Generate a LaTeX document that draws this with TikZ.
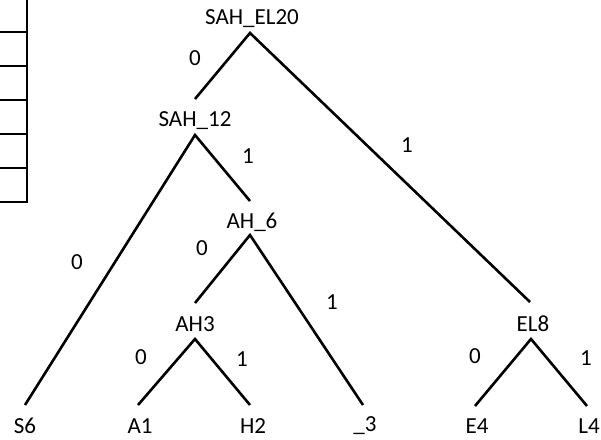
\documentclass[tikz,border=0pt]{standalone}
\usepackage{fontspec}
\setmainfont{Carlito}
\begin{document}
\begin{tikzpicture}[x=1pt,y=-1pt,
  lbl/.style={inner sep=0pt,font=\fontsize{23}{25}\selectfont},
  edge/.style={line width=2.6pt},
  tbl/.style={line width=2pt}]
\useasboundingbox (0,0) rectangle (601,439);
% table fragment
\draw[tbl] (27,0) -- (27,203);
\foreach \y in {32,66,100,134,168,202} \draw[tbl] (0,\y) -- (27,\y);
% node labels
\node[lbl] (n20) at (252,19) {SAH\_EL20};
\node[lbl] (n12) at (195,121) {SAH\_12};
\node[lbl] (n6) at (252,222) {AH\_6};
\node[lbl] (n3) at (195,324) {AH3};
\node[lbl] (n8) at (533,324) {EL8};
\node[lbl] (s6) at (25,426) {S6};
\node[lbl] (a1) at (140,426) {A1};
\node[lbl] (h2) at (253,426) {H2};
\node[lbl] (u3) at (365,426) {\_3};
\node[lbl] (e4) at (477,426) {E4};
\node[lbl] (l4) at (589,426) {L4};
% connector points
\coordinate (t20) at (250,33);
\coordinate (t12) at (195,135);
\coordinate (b12) at (195,99);
\coordinate (t6) at (250,235);
\coordinate (b6) at (250,201);
\coordinate (t3) at (195,339);
\coordinate (b3) at (195,303);
\coordinate (t8) at (531,339);
\coordinate (b8) at (530,302);
\coordinate (bs6) at (25,405);
\coordinate (ba1) at (138,405);
\coordinate (bh2) at (250,405);
\coordinate (bu3) at (363,405);
\coordinate (be4) at (475,406);
\coordinate (bl4) at (587,406);
% edges
\draw[edge] (b12) -- (t20) -- (b8);
\draw[edge] (bs6) -- (t12) -- (b6);
\draw[edge] (b3) -- (t6) -- (bu3);
\draw[edge] (ba1) -- (t3) -- (bh2);
\draw[edge] (be4) -- (t8) -- (bl4);
% edge labels
\node[lbl] at (195,58) {0};
\node[lbl] at (407,145) {1};
\node[lbl] at (248,156) {1};
\node[lbl] at (77,262) {0};
\node[lbl] at (202,248) {0};
\node[lbl] at (332,302) {1};
\node[lbl] at (141,357) {0};
\node[lbl] at (242,359) {1};
\node[lbl] at (475,356) {0};
\node[lbl] at (586,358) {1};
\end{tikzpicture}
\end{document}
